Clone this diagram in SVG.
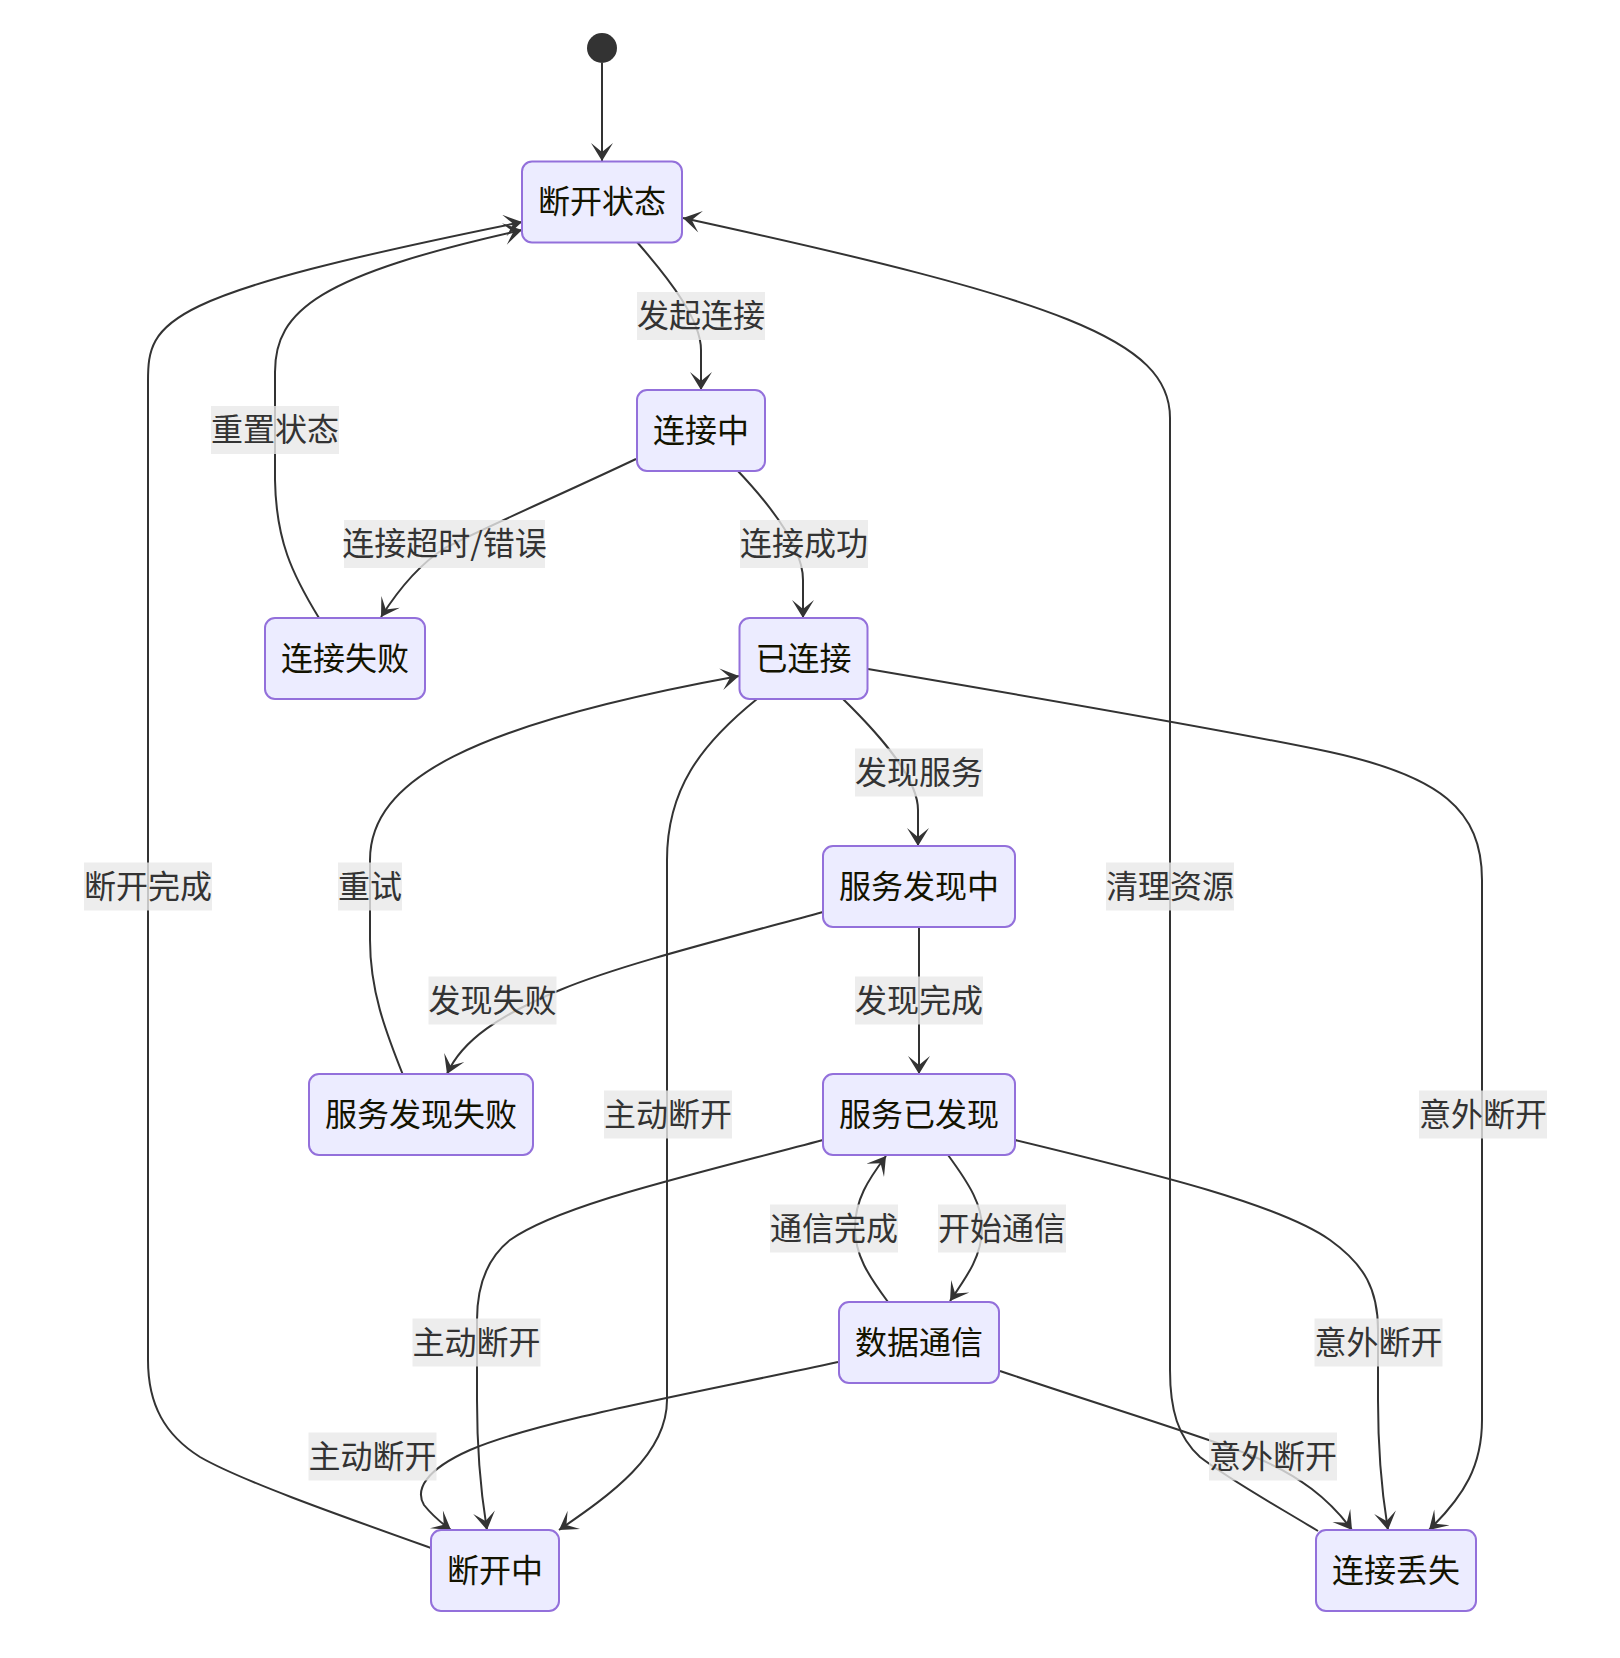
<svg xmlns="http://www.w3.org/2000/svg" width="1620" height="1658" viewBox="0 0 1620 1658">
<style>
.node rect{fill:#ECECFF;stroke:#9370DB;stroke-width:2}
.node text{font-family:"Noto Sans CJK SC","Noto Sans",sans-serif;font-size:32px;fill:#131300;text-anchor:middle;dominant-baseline:central}
.edge{fill:none;stroke:#333333;stroke-width:2;marker-end:url(#barb)}
.lbl rect{fill:#e8e8e8;fill-opacity:0.8}
.lbl text{font-family:"Noto Sans CJK SC","Noto Sans",sans-serif;font-size:32px;fill:#333333;text-anchor:middle;dominant-baseline:central}
</style>
<defs>
<marker id="barb" markerUnits="userSpaceOnUse" markerWidth="22" markerHeight="24" refX="19" refY="11" orient="auto">
<path d="M19,11 L1,22 L10,11 L1,0 Z" fill="#333333"/>
</marker>
</defs>
<rect width="1620" height="1658" fill="#ffffff"/>
<g id="connectors">
<path class="edge" d="M602,63 L602,161"/>
<path class="edge" d="M637,242 C670,280 701,320 701,350 L701,390"/>
<path class="edge" d="M636,459 C560,495 490,525 445,548 C415,567 395,595 381,617"/>
<path class="edge" d="M737,470 C775,510 803,550 803,580 L803,618"/>
<path class="edge" d="M319,618 C292,574 276,540 275,480 L275,372 C275,310 320,275 522,230"/>
<path class="edge" d="M431,1548 C330,1512 240,1480 200,1457 C165,1435 148,1405 148,1360 L148,381 C148,320 160,295 522,222"/>
<path class="edge" d="M1318,1531 C1270,1502 1230,1480 1200,1457 C1178,1437 1170,1410 1170,1370 L1170,418 C1170,340 1060,300 683,218"/>
<path class="edge" d="M843,699 C885,740 918,780 918,810 L918,846"/>
<path class="edge" d="M868,669 C1050,700 1250,735 1330,752 C1440,776 1482,810 1482,880 L1482,1420 C1482,1465 1465,1495 1429,1530"/>
<path class="edge" d="M757,699 C700,745 667,790 667,860 L667,1400 C667,1455 610,1495 559,1530"/>
<path class="edge" d="M823,912 C720,940 620,965 560,990 C500,1015 462,1040 447,1074"/>
<path class="edge" d="M919,927 L919,1074"/>
<path class="edge" d="M403,1075 C385,1030 370,990 370,940 L370,860 C370,780 470,725 739,676"/>
<path class="edge" d="M823,1140 C680,1178 560,1205 510,1240 C485,1260 477,1290 477,1320 L477,1400 C477,1460 482,1500 487,1530"/>
<path class="edge" d="M1015,1140 C1160,1175 1280,1205 1330,1240 C1365,1265 1378,1290 1378,1330 L1378,1400 C1378,1460 1383,1500 1388,1530"/>
<path class="edge" d="M948,1155 C970,1185 982,1205 982,1228 C982,1255 968,1275 950,1301"/>
<path class="edge" d="M888,1302 C868,1275 855,1255 855,1228 C855,1200 868,1180 886,1156"/>
<path class="edge" d="M838,1362 C700,1392 540,1420 470,1450 C425,1470 415,1490 424,1505 C432,1515 440,1522 451,1530"/>
<path class="edge" d="M1000,1371 C1100,1405 1200,1435 1250,1455 C1300,1475 1330,1500 1352,1530"/>
</g>
<g id="start"><circle cx="602" cy="48" r="15" fill="#333333"/></g>
<g id="n-disconnected" class="node"><rect x="522" y="161.5" width="160" height="81" rx="10"/><text x="602" y="199">断开状态</text></g>
<g id="n-connecting" class="node"><rect x="637" y="390" width="128" height="81" rx="10"/><text x="701" y="427.5">连接中</text></g>
<g id="n-connfail" class="node"><rect x="265" y="618" width="160" height="81" rx="10"/><text x="345" y="655.5">连接失败</text></g>
<g id="n-connected" class="node"><rect x="739.5" y="618" width="128" height="81" rx="10"/><text x="803.5" y="655.5">已连接</text></g>
<g id="n-discovering" class="node"><rect x="823" y="846" width="192" height="81" rx="10"/><text x="919" y="883.5">服务发现中</text></g>
<g id="n-discfail" class="node"><rect x="309" y="1074" width="224" height="81" rx="10"/><text x="421" y="1111.5">服务发现失败</text></g>
<g id="n-discovered" class="node"><rect x="823" y="1074" width="192" height="81" rx="10"/><text x="919" y="1111.5">服务已发现</text></g>
<g id="n-datacomm" class="node"><rect x="839" y="1302" width="160" height="81" rx="10"/><text x="919" y="1339.5">数据通信</text></g>
<g id="n-disconnecting" class="node"><rect x="431" y="1530" width="128" height="81" rx="10"/><text x="495" y="1567.5">断开中</text></g>
<g id="n-lost" class="node"><rect x="1316" y="1530" width="160" height="81" rx="10"/><text x="1396" y="1567.5">连接丢失</text></g>
<g id="edge-labels" class="lbl">
<rect x="637" y="292" width="128" height="48"/><text x="701" y="313">发起连接</text>
<rect x="211" y="406" width="128" height="48"/><text x="275" y="427">重置状态</text>
<rect x="344" y="520" width="201" height="48"/><text x="444.5" y="541">连接超时/错误</text>
<rect x="740" y="520" width="128" height="48"/><text x="804" y="541">连接成功</text>
<rect x="855" y="748.5" width="128" height="48"/><text x="919" y="769.5">发现服务</text>
<rect x="84" y="862.5" width="128" height="48"/><text x="148" y="883.5">断开完成</text>
<rect x="338" y="862.5" width="64" height="48"/><text x="370" y="883.5">重试</text>
<rect x="1106" y="862.5" width="128" height="48"/><text x="1170" y="883.5">清理资源</text>
<rect x="428.5" y="976.5" width="128" height="48"/><text x="492.5" y="997.5">发现失败</text>
<rect x="855" y="976.5" width="128" height="48"/><text x="919" y="997.5">发现完成</text>
<rect x="604" y="1090.5" width="128" height="48"/><text x="668" y="1111.5">主动断开</text>
<rect x="1419" y="1090.5" width="128" height="48"/><text x="1483" y="1111.5">意外断开</text>
<rect x="770" y="1204.5" width="128" height="48"/><text x="834" y="1225.5">通信完成</text>
<rect x="938" y="1204.5" width="128" height="48"/><text x="1002" y="1225.5">开始通信</text>
<rect x="412.5" y="1318.5" width="128" height="48"/><text x="476.5" y="1339.5">主动断开</text>
<rect x="1314.5" y="1318.5" width="128" height="48"/><text x="1378.5" y="1339.5">意外断开</text>
<rect x="308.5" y="1432.5" width="128" height="48"/><text x="372.5" y="1453.5">主动断开</text>
<rect x="1209" y="1432.5" width="128" height="48"/><text x="1273" y="1453.5">意外断开</text>
</g>
</svg>
